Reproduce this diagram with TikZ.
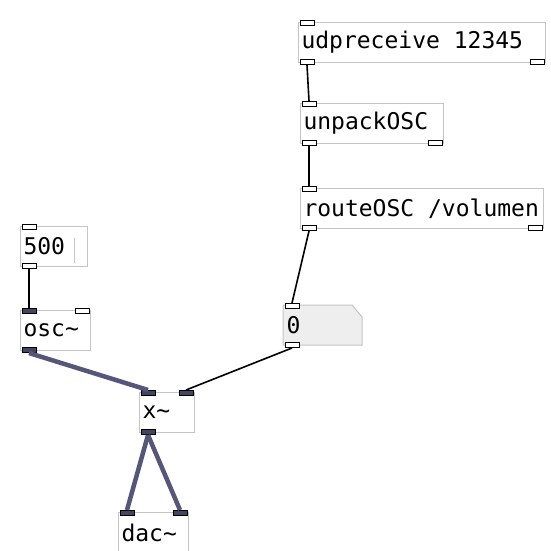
\documentclass[tikz,border=0pt]{standalone}
\usepackage{fontspec}
\newfontfamily\pdfont[WordSpace={1,0,0}]{DejaVu Sans Mono}
\usetikzlibrary{calc}
\definecolor{boxGray}{RGB}{196,196,196}
\definecolor{numFill}{RGB}{238,238,238}
\definecolor{sigCol}{RGB}{86,86,122}
\begin{document}
\begin{tikzpicture}
[x=1pt,y=-1pt,%
  pdBox/.style={draw=boxGray,fill=white,line width=1pt,anchor=north west,minimum height=40pt,%
    inner xsep=3pt,inner ysep=0pt,text width=#1,align=left,font=\pdfont\fontsize{23}{24}\selectfont,%
    execute at begin node={\spaceskip=0.602em\relax\leavevmode\hbox\bgroup},execute at end node={\egroup}},%
  ctlPort/.style={draw=black,fill=white,line width=1pt,minimum width=14pt,minimum height=5pt,inner sep=0pt},%
  sigPort/.style={ctlPort,fill=sigCol!80!black},%
  ctlWire/.style={-,line width=1.6pt,black},%
  sigWire/.style={-,line width=4.5pt,sigCol}]
\useasboundingbox[fill=white] (0,0) rectangle (550,551);
%% number box outline (notched corner)
\draw[boxGray,line width=1pt,fill=numFill] (283,305) -- (352,305) -- (362,317) -- (362,345) -- (283,345) -- cycle;
%% boxes
\node[pdBox=241pt] (udp) at (298,22) {udpreceive 12345};
\node[pdBox=137pt] (unpack) at (300,103) {unpackOSC};
\node[pdBox=237pt] (route) at (300,188) {routeOSC /volumen};
\node[pdBox=61pt] (num) at (20,226) {500};
\node[pdBox=64pt] (osc) at (20,310) {osc\char`\~};
\node[pdBox=73pt,draw=none,fill=none] (zero) at (283,305) {0};
\node[pdBox=49pt] (mul) at (139,392) {x\char`\~};
\node[pdBox=64pt] (dac) at (118,512) {dac\char`\~};
\draw[boxGray,line width=1pt] ($(num.north east)+(-14,12)$) -- ($(num.south east)+(-14,-4)$);
%% inlets and outlets
\foreach \obj in {udp, unpack, route, num, zero}
{
  \node[ctlPort] (\obj-i0) at ($(\obj.north west)+(9,1)$) {};
  \node[ctlPort] (\obj-o0) at ($(\obj.south west)+(9,-1)$) {};
}
\node[ctlPort] (udp-o1) at ($(udp.south east)+(-9,-1)$) {};
\node[ctlPort] (unpack-o1) at ($(unpack.south east)+(-9,-1)$) {};
\node[ctlPort] (route-o1) at ($(route.south east)+(-9,-1)$) {};
\node[sigPort] (osc-i0) at ($(osc.north west)+(9,1)$) {};
\node[ctlPort] (osc-i1) at ($(osc.north east)+(-9,1)$) {};
\node[sigPort] (osc-o0) at ($(osc.south west)+(9,-1)$) {};
\node[sigPort] (mul-i0) at ($(mul.north west)+(9,1)$) {};
\node[sigPort] (mul-i1) at ($(mul.north east)+(-9,1)$) {};
\node[sigPort] (mul-o0) at ($(mul.south west)+(9,-1)$) {};
\node[sigPort] (dac-i0) at ($(dac.north west)+(9,1)$) {};
\node[sigPort] (dac-i1) at ($(dac.north east)+(-9,1)$) {};
%% connections
\draw[ctlWire] (udp-o0.south) -- (unpack-i0.north);
\draw[ctlWire] (unpack-o0.south) -- (route-i0.north);
\draw[ctlWire] (route-o0.south) -- (zero-i0.north);
\draw[ctlWire] (num-o0.south) -- (osc-i0.north);
\draw[ctlWire] (zero-o0.south) -- (mul-i1.north);
\draw[sigWire] (osc-o0.south) -- (mul-i0.north);
\draw[sigWire] (mul-o0.south) -- (dac-i0.north);
\draw[sigWire] (mul-o0.south) -- (dac-i1.north);
\end{tikzpicture}
\end{document}
